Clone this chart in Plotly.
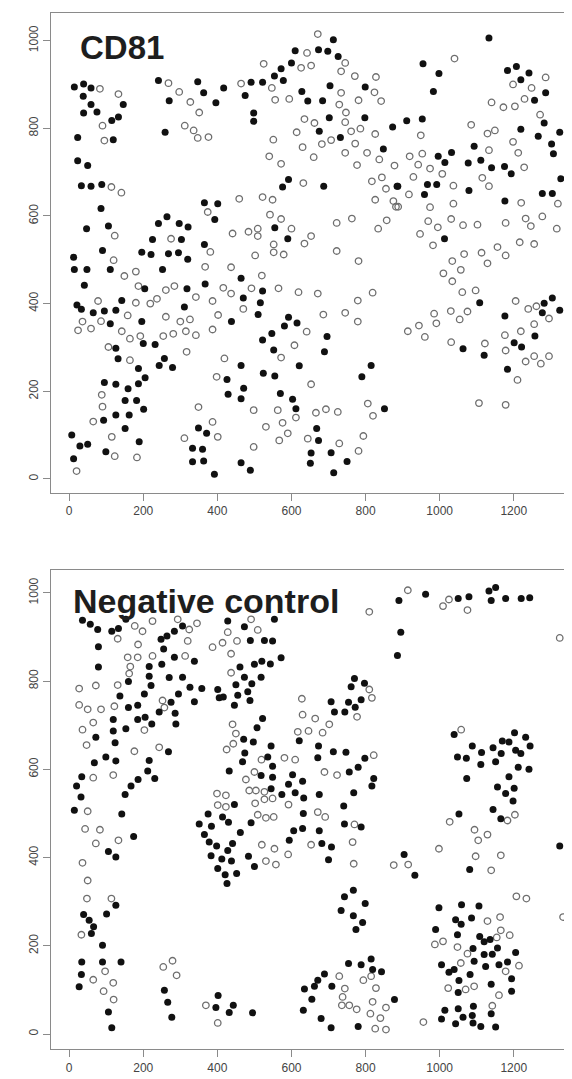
import plotly.graph_objects as go

# ---------------- data ----------------
x_ticks = [0, 200, 400, 600, 800, 1000, 1200]
y_ticks = [0, 200, 400, 600, 800, 1000]
panel_titles = ["CD81", "Negative control"]

cd81_filled = [
(14,894),(39,901),(59,892),(38,873),(59,854),(146,854),(39,835),(75,837),(133,826),(115,818),(23,779),(119,774),(241,909),(347,906),(363,881),(270,863),(396,858),(259,791),(23,726),(50,715),(33,669),(59,668),(88,672),(86,617),(47,571),(106,577),(241,583),(264,598),(297,583),(321,575),(225,546),(303,546),(365,630),(401,628),(393,592),(365,535),(90,521),(196,517),(221,512),(268,514),(295,516),(12,506),
(713,1002),(610,977),(673,979),(698,976),(726,964),(600,949),(572,936),(554,919),(578,909),(491,905),(522,905),(417,892),(799,894),(704,897),(628,884),(475,875),(644,862),(684,863),(702,824),(798,824),(675,793),(732,779),(873,803),(848,753),(498,835),(498,816),(592,683),(576,666),(687,668),(885,668),(555,573),(590,548),
(1133,1006),(955,947),(998,925),(983,884),(1183,932),(1207,941),(1241,926),(1219,911),(1286,881),(1256,864),(1282,812),(1219,798),(1266,782),(1324,791),(1302,764),(1307,742),(1093,759),(911,817),(953,821),(996,736),(1032,745),(1014,722),(1077,721),(1111,727),(1140,710),(1175,713),(1193,696),(1327,685),(887,668),(967,672),(992,672),(959,649),(1079,658),(1176,634),(1277,651),(1304,651),(1013,548),
(320,501),(14,478),(48,478),(111,478),(252,478),(41,442),(204,434),(318,434),(367,445),(21,397),(33,387),(65,379),(95,383),(126,385),(142,407),(311,392),(196,359),(111,354),(200,309),(232,307),(126,298),(132,274),(187,252),(257,275),(243,259),(279,254),(205,231),(187,217),(95,220),(126,216),(159,206),(151,179),(182,179),(201,159),(126,146),(162,146),(93,134),(151,115),(349,116),(371,104),(7,100),(29,75),(50,79),(189,85),(99,62),(333,70),(360,68),(333,39),(363,41),(12,46),(392,11),
(464,458),(470,413),(522,429),(516,402),(510,375),(438,359),(592,369),(615,356),(581,349),(547,332),(522,317),(552,294),(696,325),(689,290),(464,259),(621,258),(524,241),(555,235),(426,227),(471,207),(429,193),(464,183),(570,195),(603,182),(612,160),(851,160),(815,259),(790,233),(668,115),(673,88),(653,59),(651,36),(707,60),(750,40),(714,14),(464,37),(489,20),
(1108,402),(1304,413),(1282,401),(1277,379),(1324,385),(1176,372),(1257,326),(1201,311),(1221,301),(1063,297),(1120,282),(1183,250)]

cd81_open = [
(83,890),(133,878),(90,806),(95,772),(114,666),(141,653),(123,555),(275,548),(374,609),(381,518),(268,903),(297,883),(327,860),(351,836),(312,806),(336,795),(347,778),(376,780),
(671,1015),(642,972),(525,947),(626,938),(653,943),(745,949),(734,930),(464,902),(547,892),(771,919),(828,917),(824,882),(842,862),(734,881),(556,865),(594,867),(781,864),(729,854),(747,836),(745,814),(635,821),(662,812),(614,791),(761,793),(786,799),(707,773),(682,764),(826,787),(551,774),(630,757),(772,765),(745,744),(804,744),(540,736),(572,719),(660,734),(837,729),(777,716),(878,715),(632,675),(817,679),(844,688),(855,662),(875,634),(882,621),(826,637),(459,639),(522,643),(549,637),(542,603),(572,593),(600,571),(509,571),(484,564),(509,554),(441,560),(722,584),(763,594),(857,590),(834,571),(653,554),(635,537),(552,535),(552,517),(579,512),(502,510),(722,520),
(1040,959),(1286,916),(1198,900),(1248,892),(1229,867),(1140,859),(1172,848),(1203,850),(1271,831),(1085,808),(1129,788),(1149,795),(1198,769),(1212,744),(1133,750),(949,784),(919,736),(953,742),(942,717),(974,708),(1228,711),(1115,687),(1133,668),(1007,696),(929,689),(1037,669),(917,649),(888,621),(974,620),(1037,628),(1220,630),(1319,628),(969,588),(995,574),(1031,593),(1063,579),(1102,580),(1178,584),(1232,594),(1246,577),(1277,599),(1316,571),(947,559),(982,533),(1066,513),(1113,516),(1156,529),(1178,510),(1216,540),(1255,536),
(120,499),(149,463),(180,473),(367,484),(187,440),(261,431),(284,440),(342,415),(387,406),(78,406),(180,402),(219,400),(237,411),(158,373),(261,370),(300,359),(326,364),(36,359),(86,360),(24,339),(59,343),(142,337),(164,320),(192,326),(254,326),(281,331),(315,337),(342,328),(387,341),(402,374),(106,301),(164,271),(317,290),(398,233),(88,192),(90,165),(65,131),(349,164),(387,130),(401,96),(115,96),(311,93),(123,52),(183,49),(20,18),
(781,497),(437,483),(520,464),(416,436),(437,423),(492,435),(565,435),(619,426),(671,423),(819,425),(470,388),(779,407),(641,336),(686,375),(745,379),(779,359),(608,305),(419,275),(572,277),(653,216),(498,157),(563,157),(612,140),(666,151),(693,159),(725,153),(806,172),(820,144),(576,128),(531,119),(590,104),(567,88),(644,92),(498,73),(729,81),(794,98),(781,64),
(1034,497),(1129,492),(1010,469),(1057,477),(1034,451),(1061,426),(1097,430),(1205,406),(1239,388),(1261,394),(1295,366),(1255,353),(1219,337),(1176,328),(1178,293),(985,377),(1030,383),(1075,382),(1054,364),(991,355),(914,337),(944,350),(960,324),(1031,312),(1122,309),(1232,268),(1255,280),(1273,263),(1295,280),(1210,226),(1106,173),(1178,169)]

neg_filled = [
(36,938),(57,929),(77,917),(115,913),(133,919),(153,940),(306,925),(284,913),(264,902),(248,895),(255,873),(79,878),(79,832),(216,833),(250,838),(284,854),(338,845),(160,799),(216,811),(270,808),(306,809),(221,790),(326,786),(358,783),(401,781),(405,762),(137,766),(203,771),(295,771),(338,753),(275,752),(160,740),(185,745),(243,730),(286,727),(185,713),(205,718),(288,703),(223,703),(119,713),(119,687),(153,692),(72,673),(124,660),(268,640),(99,628),(126,619),(68,615),(216,620),(212,596),(231,579),(186,577),(167,562),(151,543),(34,583),(20,562),(32,537),
(428,936),(554,940),(473,923),(489,892),(527,892),(549,891),(572,853),(500,838),(520,845),(543,839),(461,832),(473,809),(518,809),(450,792),(493,794),(416,764),(455,768),(482,776),(488,756),(446,745),(522,715),(507,694),(770,806),(797,795),(761,787),(788,758),(754,752),(772,741),(707,753),(716,730),(744,730),(471,668),(497,662),(545,653),(621,665),(673,653),(474,637),(468,617),(536,628),(549,607),(432,596),(518,586),(549,582),(603,588),(630,573),(592,566),(671,626),(713,640),(747,639),(798,625),(780,605),(756,594),(822,579),(817,562),(768,547),(446,520),(545,556),(574,543),(610,547),(633,535),(675,543),(741,517),
(890,983),(962,997),(1050,987),(1079,991),(1133,1004),(1151,1012),(1139,983),(1178,987),(1220,987),(1243,989),(895,911),(886,858),(1039,679),(1088,653),(1113,638),(1144,649),(1169,664),(1187,662),(1202,683),(1232,673),(1244,653),(1205,643),(1219,636),(1166,636),(1048,628),(1072,625),(1111,611),(1151,617),(1212,605),(1241,600),(1187,583),(1073,579),(1156,560),(1178,545),(1201,557),(1198,528),(1144,509),
(14,507),(142,499),(174,448),(106,414),(126,401),(126,292),(101,272),(39,271),(54,258),(66,243),(60,228),(90,201),(34,163),(90,163),(140,163),(33,135),(27,107),(106,50),(115,14),(257,99),(266,72),(277,38),(375,499),(351,476),(384,471),(365,452),(378,435),(398,426),(383,404),(401,375),(402,87),(396,60),
(414,492),(430,480),(462,457),(491,479),(632,500),(606,461),(630,466),(675,461),(743,476),(788,469),(594,439),(682,432),(708,424),(700,395),(484,403),(500,380),(441,432),(428,416),(412,397),(438,392),(421,361),(452,364),(426,341),(767,326),(743,311),(799,296),(734,280),(767,268),(792,253),(774,237),(754,160),(788,157),(815,170),(819,146),(843,141),(689,136),(671,122),(662,108),(635,102),(709,108),(655,79),(632,54),(680,35),(707,14),(780,17),(878,78),(443,65),(432,49),(495,48),
(1052,499),(1165,488),(904,407),(933,360),(1081,373),(1324,426),(998,286),(1059,293),(1106,290),(1043,259),(1058,249),(1086,263),(989,237),(1048,225),(1108,221),(1120,209),(1136,214),(1090,194),(1120,180),(1142,181),(1156,195),(1205,185),(1005,157),(1025,140),(1039,146),(1093,165),(1124,153),(1160,157),(1183,163),(1082,135),(1052,121),(1139,113),(1194,125),(1050,94),(1194,97),(1014,54),(1050,57),(1091,63),(1139,46),(1005,34),(1063,38),(1088,42),(1043,23),(1090,25),(1111,17),(1151,16)]

neg_open = [
(177,925),(198,913),(131,896),(225,936),(293,940),(324,917),(345,931),(320,891),(186,883),(387,877),(313,857),(158,854),(185,854),(225,857),(165,833),(162,817),(27,783),(72,790),(131,791),(252,756),(257,740),(27,746),(50,736),(86,736),(122,743),(65,706),(36,690),(203,689),(47,655),(176,641),(243,650),(65,581),(119,587),(399,545),(401,519),
(491,940),(810,957),(509,916),(428,911),(414,887),(453,891),(437,862),(437,819),(628,760),(630,724),(664,715),(702,702),(617,685),(646,687),(684,683),(810,781),(817,762),(777,719),(441,702),(450,681),(425,645),(443,658),(519,622),(581,626),(610,622),(500,594),(477,577),(689,594),(723,587),(822,632),(423,541),(423,515),(486,552),(504,552),(527,549),(549,534),(527,532),(502,523),(592,520),
(914,1006),(1009,970),(1025,985),(1075,961),(1324,898),(1058,690),
(50,505),(43,465),(83,463),(72,432),(133,439),(36,388),(50,348),(48,307),(114,307),(33,225),(97,142),(65,123),(119,116),(93,97),(120,78),(254,152),(279,166),(290,133),(369,65),(401,25),
(509,497),(531,490),(552,492),(671,503),(691,492),(770,475),(653,429),(765,435),(768,386),(876,383),(520,429),(554,420),(591,407),(531,392),(558,384),(729,131),(794,122),(815,131),(828,104),(744,103),(738,84),(736,65),(756,65),(776,56),(819,73),(855,60),(813,46),(840,36),(826,12),(855,10),
(1027,481),(1183,484),(1203,497),(1094,463),(1104,439),(1129,452),(998,420),(915,384),(1097,403),(1165,405),(1139,371),(1207,312),(1234,307),(1129,256),(1163,265),(1333,265),(1154,219),(1165,235),(1189,224),(987,203),(1009,210),(1048,197),(1075,182),(1057,161),(1178,142),(1214,155),(1023,104),(1070,101),(1093,108),(1160,88),(1142,64),(956,27)]

# ---------------- figure ----------------
FONT = "Liberation Sans, Arial, sans-serif"
AX = "#8a8a8a"
fig = go.Figure()

def add(points, filled, xa, ya):
    xs = [p[0] for p in points]
    ys = [p[1] for p in points]
    if filled:
        marker = dict(size=7, color="#111111", line=dict(width=0))
    else:
        marker = dict(size=6.5, color="rgba(255,255,255,0)", line=dict(width=1.3, color="#6e6e6e"))
    fig.add_trace(go.Scatter(x=xs, y=ys, mode="markers", marker=marker,
                             xaxis=xa, yaxis=ya, showlegend=False, hoverinfo="skip"))

add(cd81_open, False, "x", "y")
add(cd81_filled, True, "x", "y")
add(neg_open, False, "x2", "y2")
add(neg_filled, True, "x2", "y2")

xcommon = dict(range=[-49, 1376], tickvals=x_ticks, ticktext=[str(v) for v in x_ticks],
               ticks="outside", ticklen=7, tickcolor=AX, tickwidth=1,
               showline=True, linecolor=AX, linewidth=1.2, mirror=True,
               showgrid=False, zeroline=False,
               tickfont=dict(family=FONT, size=12, color="#444444"))
ycommon = dict(tickvals=y_ticks, ticktext=[str(v) for v in y_ticks], tickangle=-90,
               ticks="outside", ticklen=7, tickcolor=AX, tickwidth=1,
               showline=True, linecolor=AX, linewidth=1.2, mirror=True,
               showgrid=False, zeroline=False,
               tickfont=dict(family=FONT, size=12, color="#444444"))

fig.update_layout(
    width=572, height=1079,
    margin=dict(l=43, r=1, t=5, b=38),
    paper_bgcolor="white", plot_bgcolor="white",
    xaxis=dict(xcommon, domain=[0, 1], anchor="y"),
    yaxis=dict(ycommon, domain=[0.5367, 1], range=[-32, 1063], anchor="x"),
    xaxis2=dict(xcommon, domain=[0, 1], anchor="y2"),
    yaxis2=dict(ycommon, domain=[0, 0.4624], range=[-34, 1052], anchor="x2"),
)

fig.add_annotation(x=23, y=985, xref="x", yref="y", text="<b>%s</b>" % panel_titles[0],
                   showarrow=False, xanchor="left", yanchor="middle",
                   font=dict(family=FONT, size=33, color="#1e1e1e"))
fig.add_annotation(x=5, y=982, xref="x2", yref="y2", text="<b>%s</b>" % panel_titles[1],
                   showarrow=False, xanchor="left", yanchor="middle",
                   font=dict(family=FONT, size=34, color="#1e1e1e"))

fig.write_html("out.html")
